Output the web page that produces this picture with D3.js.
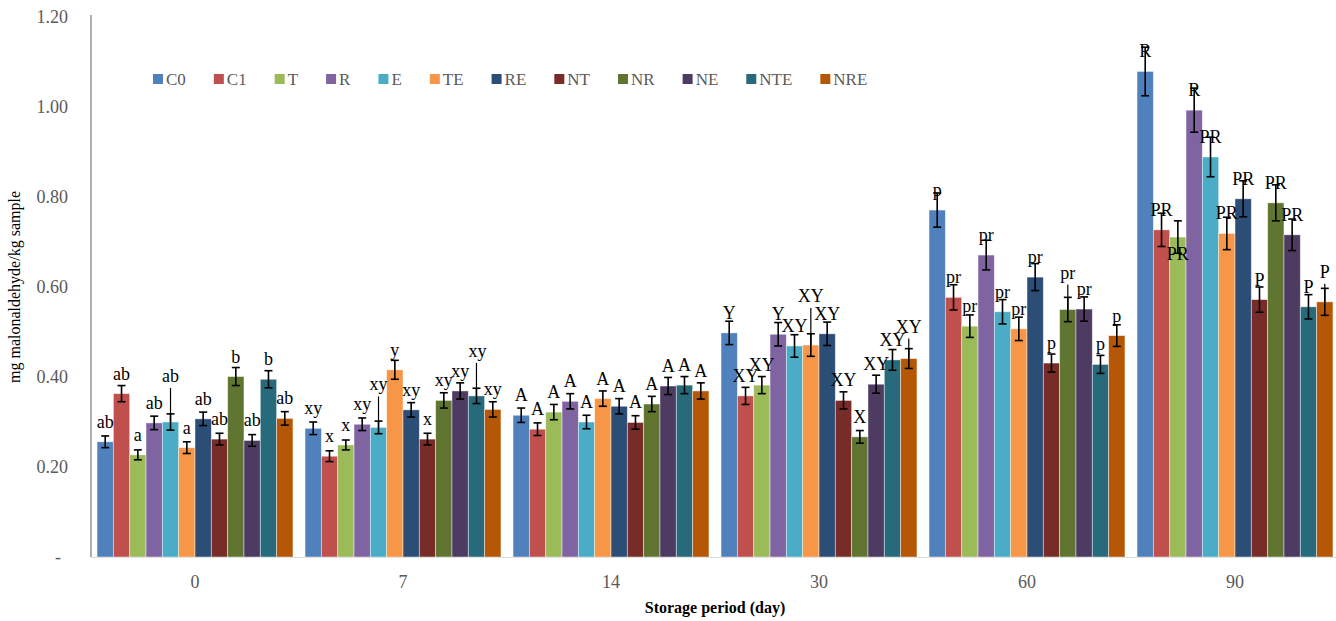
<!doctype html>
<html lang="en">
<head>
<meta charset="utf-8">
<title>Malonaldehyde during storage</title>
<style>
body { margin: 0; background: #fff; }
svg { display: block; font-family: "Liberation Serif", "Times New Roman", serif; }
</style>
</head>
<body>
<div id="chart"></div>
<script src="https://cdn.jsdelivr.net/npm/d3@7"></script>
<script>
// storage days and treatments
var days = ["0", "7", "14", "30", "60", "90"];
var treatments = ["C0", "C1", "T", "R", "E", "TE", "RE", "NT", "NR", "NE", "NTE", "NRE"];
var colors = ["#4F81BD", "#C0504D", "#9BBB59", "#8064A2", "#4BACC6", "#F79646",
              "#2C4D75", "#772C2A", "#5F7530", "#4D3B62", "#276A7C", "#B65708"];

// mean mg malonaldehyde/kg sample, one array per day (treatment order as above)
var mean0  = [0.256, 0.363, 0.227, 0.298, 0.300, 0.243, 0.307, 0.262, 0.401, 0.259, 0.395, 0.308];
var mean7  = [0.286, 0.224, 0.249, 0.295, 0.288, 0.416, 0.327, 0.262, 0.348, 0.369, 0.358, 0.328];
var mean14 = [0.315, 0.284, 0.322, 0.346, 0.300, 0.352, 0.335, 0.299, 0.340, 0.380, 0.382, 0.369];
var mean30 = [0.498, 0.358, 0.382, 0.495, 0.469, 0.471, 0.496, 0.348, 0.267, 0.384, 0.438, 0.441];
var mean60 = [0.771, 0.577, 0.513, 0.671, 0.545, 0.507, 0.622, 0.431, 0.550, 0.551, 0.428, 0.492];
var mean90 = [1.079, 0.727, 0.711, 0.993, 0.889, 0.719, 0.796, 0.572, 0.787, 0.716, 0.556, 0.567];

// error bar half widths
var err0  = [0.013, 0.018, 0.011, 0.015, 0.018, 0.013, 0.015, 0.013, 0.020, 0.013, 0.019, 0.015];
var err7  = [0.014, 0.012, 0.011, 0.014, 0.014, 0.021, 0.016, 0.013, 0.017, 0.018, 0.017, 0.017];
var err14 = [0.016, 0.014, 0.017, 0.017, 0.015, 0.017, 0.017, 0.015, 0.017, 0.019, 0.019, 0.018];
var err30 = [0.026, 0.019, 0.019, 0.026, 0.025, 0.025, 0.026, 0.019, 0.014, 0.020, 0.023, 0.022];
var err60 = [0.038, 0.028, 0.025, 0.033, 0.027, 0.026, 0.030, 0.020, 0.027, 0.027, 0.020, 0.024];
var err90 = [0.054, 0.037, 0.036, 0.049, 0.044, 0.036, 0.040, 0.028, 0.040, 0.035, 0.027, 0.030];

// significance letters
var sig0  = ["ab", "ab", "a", "ab", "ab", "a", "ab", "ab", "b", "ab", "b", "ab"];
var sig7  = ["xy", "x", "x", "xy", "xy", "y", "xy", "x", "xy", "xy", "xy", "xy"];
var sig14 = ["A", "A", "A", "A", "A", "A", "A", "A", "A", "A", "A", "A"];
var sig30 = ["Y", "XY", "XY", "Y", "XY", "XY", "XY", "XY", "X", "XY", "XY", "XY"];
var sig60 = ["p", "pr", "pr", "pr", "pr", "pr", "pr", "p", "pr", "pr", "p", "p"];
var sig90 = ["R", "PR", "PR", "R", "PR", "PR", "PR", "P", "PR", "PR", "P", "P"];

var yTicks = [0, 0.2, 0.4, 0.6, 0.8, 1.0, 1.2];

var means = [mean0, mean7, mean14, mean30, mean60, mean90];
var errs = [err0, err7, err14, err30, err60, err90];
var sigs = [sig0, sig7, sig14, sig30, sig60, sig90];

var rows = [];
days.forEach(function(d, i) {
    treatments.forEach(function(t, j) {
        rows.push({day: d, di: i, tr: t, ti: j, v: means[i][j], e: errs[i][j], s: sigs[i][j]});
    });
});

// labels that were dragged off their default spot: [day, treatment, dx, dy, leader line]
var nudges = [["0", "E", 0, -26, true], ["7", "E", 0, -23, true], ["7", "NTE", 1, -25, true],
              ["30", "TE", 0, -29, true], ["30", "NRE", 0, -12, true], ["60", "NR", 0, -17, true],
              ["90", "T", 0, 37, false], ["90", "NRE", 0, -10, true]];

var width = 1336, height = 621;
var svg = d3.select("#chart").append("svg").attr("width", width).attr("height", height);

var x0 = d3.scaleBand().domain(days).range([91, 1339]);
var x1 = d3.scaleBand().domain(treatments).range([0, x0.bandwidth()]).paddingOuter(0.37);
var y = d3.scaleLinear().domain([0, 1.2]).range([557, 17]);

// y axis
var yAxis = svg.append("g").attr("transform", "translate(91,0)")
    .call(d3.axisLeft(y).tickValues(yTicks).tickSize(0).tickPadding(23)
        .tickFormat(function(d) { return d === 0 ? "-" : d3.format(".2f")(d); }));
yAxis.select(".domain").remove();
yAxis.selectAll("text").attr("fill", "#595959").style("font-size", "18px")
    .style("font-family", "Liberation Serif")
    .attr("dx", function(d) { return d === 0 ? -7 : 0; });
svg.append("line").attr("x1", 91).attr("x2", 91).attr("y1", 15).attr("y2", 557)
    .attr("stroke", "#868686").attr("stroke-width", 1.3);

// x axis
var xAxis = svg.append("g").attr("transform", "translate(0,557)")
    .call(d3.axisBottom(x0).tickSize(0).tickPadding(18));
xAxis.select(".domain").remove();
xAxis.selectAll("text").attr("fill", "#595959").style("font-size", "18px")
    .style("font-family", "Liberation Serif");
svg.append("line").attr("x1", 91).attr("x2", 1339).attr("y1", 557.5).attr("y2", 557.5)
    .attr("stroke", "#d9d9d9").attr("stroke-width", 1);

// bars
var bx = function(d) { return x0(d.day) + x1(d.tr); };
svg.append("g").selectAll("rect").data(rows).join("rect")
    .attr("x", bx)
    .attr("y", function(d) { return y(d.v); })
    .attr("width", x1.bandwidth())
    .attr("height", function(d) { return y(0) - y(d.v); })
    .attr("fill", function(d) { return colors[d.ti]; })
    .attr("stroke", "#ffffff").attr("stroke-opacity", 0.55).attr("stroke-width", 0.8);

// error bars
var eb = svg.append("g").attr("stroke", "#000").attr("stroke-width", 1.6);
rows.forEach(function(d) {
    var cx = bx(d) + x1.bandwidth() / 2;
    eb.append("line").attr("x1", cx).attr("x2", cx).attr("y1", y(d.v + d.e)).attr("y2", y(d.v - d.e));
    eb.append("line").attr("x1", cx - 4).attr("x2", cx + 4).attr("y1", y(d.v + d.e)).attr("y2", y(d.v + d.e));
    eb.append("line").attr("x1", cx - 4).attr("x2", cx + 4).attr("y1", y(d.v - d.e)).attr("y2", y(d.v - d.e));
});

// letters
var lab = svg.append("g").style("font-size", "18px").attr("text-anchor", "middle").attr("fill", "#000");
rows.forEach(function(d) {
    var cx = bx(d) + x1.bandwidth() / 2;
    var ty = y(d.v) - 14, tx = cx;
    var n = nudges.find(function(k) { return k[0] === d.day && k[1] === d.tr; });
    if (n) {
        tx += n[2];
        ty += n[3];
        if (n[4]) {
            svg.append("line").attr("x1", cx).attr("x2", cx).attr("y1", ty + 6).attr("y2", y(d.v))
                .attr("stroke", "#000").attr("stroke-width", 1.2);
        }
    }
    lab.append("text").attr("x", tx).attr("y", ty).text(d.s);
});

// legend
var lg = svg.append("g").attr("transform", "translate(153,74)");
var lx = 0;
treatments.forEach(function(t, i) {
    lg.append("rect").attr("x", lx).attr("y", 0).attr("width", 10).attr("height", 10).attr("fill", colors[i]);
    var tt = lg.append("text").attr("x", lx + 13).attr("y", 11).attr("fill", "#595959")
        .style("font-size", "17px").text(t);
    lx += 13 + tt.node().getComputedTextLength() + 28;
});

// axis titles
svg.append("text").attr("transform", "translate(20,287) rotate(-90)")
    .attr("text-anchor", "middle").style("font-size", "16px").text("mg malonaldehyde/kg sample");
svg.append("text").attr("x", 715).attr("y", 613).attr("text-anchor", "middle")
    .style("font-size", "16px").style("font-weight", "bold").text("Storage period (day)");
</script>
</body>
</html>
